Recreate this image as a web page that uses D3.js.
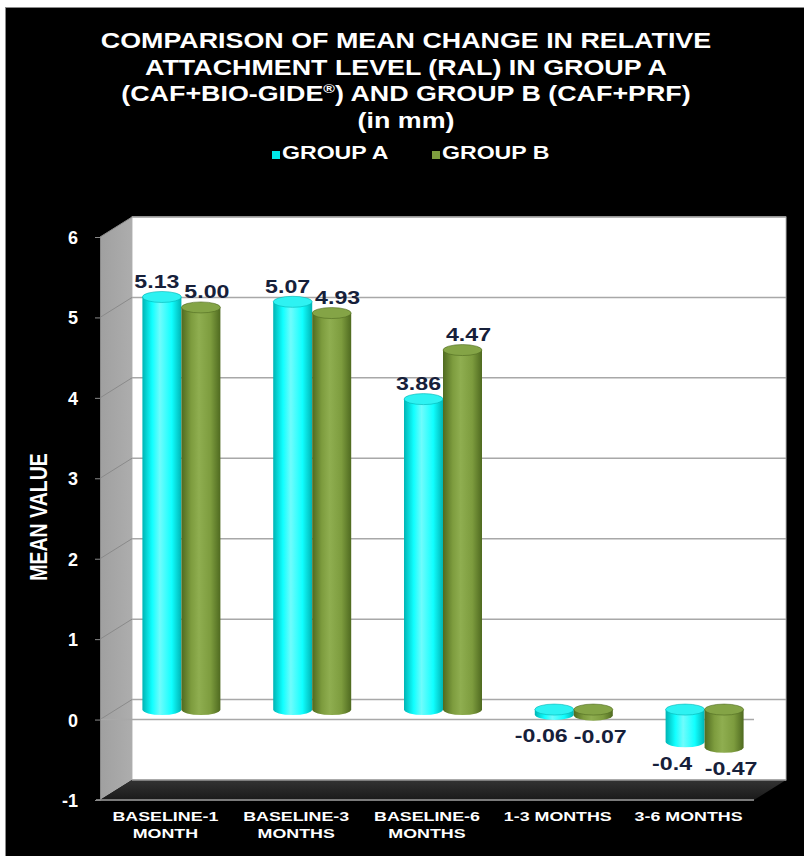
<!DOCTYPE html>
<html>
<head>
<meta charset="utf-8">
<script src="https://cdn.jsdelivr.net/npm/d3@7"></script>
<style>
  body { margin: 0; background: #fff; }
  svg { display: block; }
  text { font-family: "Liberation Sans", Arial, sans-serif; font-weight: bold; }
</style>
</head>
<body>
<script>
// ---- data ----
const categories = [["BASELINE-1", "MONTH"], ["BASELINE-3", "MONTHS"], ["BASELINE-6", "MONTHS"], ["1-3 MONTHS"], ["3-6 MONTHS"]];
const seriesNames = ["GROUP A", "GROUP B"];
const groupA = [5.13, 5.07, 3.86, -0.06, -0.4];
const groupB = [5.00, 4.93, 4.47, -0.07, -0.47];
const labelsA = ["5.13", "5.07", "3.86", "-0.06", "-0.4"];
const labelsB = ["5.00", "4.93", "4.47", "-0.07", "-0.47"];
const yTicks = [-1, 0, 1, 2, 3, 4, 5, 6];
const titleLines = [
  "COMPARISON OF MEAN CHANGE IN RELATIVE",
  "ATTACHMENT LEVEL (RAL) IN GROUP A",
  "(CAF+BIO-GIDE\u00AE) AND GROUP B (CAF+PRF)",
  "(in mm)"
];
const yTitle = "MEAN VALUE";

// ---- layout ----
const W = 804, H = 856;
const STRETCH = 1.22;           // wide lettering used throughout
const DX = 32, DY = -20;        // depth offset of the back wall
const BAR_W = 39, RY = 5.5;
const seriesColors = [
  { edge: "#00b4b4", mid: "#10ffff", light: "#6ffcfc", top: "#2ef2f2" },
  { edge: "#4f6a20", mid: "#7d9c3e", light: "#8fae50", top: "#84a446" }
];

const svg = d3.select("body").append("svg").attr("width", W).attr("height", H);
const defs = svg.append("defs");

seriesColors.forEach((c, i) => {
  const g = defs.append("linearGradient").attr("id", "cyl" + i).attr("x1", 0).attr("x2", 1).attr("y1", 0).attr("y2", 0);
  g.append("stop").attr("offset", "0%").attr("stop-color", c.edge);
  g.append("stop").attr("offset", "25%").attr("stop-color", c.mid);
  g.append("stop").attr("offset", "45%").attr("stop-color", c.light);
  g.append("stop").attr("offset", "75%").attr("stop-color", c.mid);
  g.append("stop").attr("offset", "100%").attr("stop-color", c.edge);
});
const sideGrad = defs.append("linearGradient").attr("id", "side").attr("x1", 0).attr("x2", 1);
sideGrad.append("stop").attr("offset", "0%").attr("stop-color", "#a0a0a0");
sideGrad.append("stop").attr("offset", "100%").attr("stop-color", "#adadad");
const floorGrad = defs.append("linearGradient").attr("id", "floor").attr("x1", 0).attr("x2", 0).attr("y1", 0).attr("y2", 1);
floorGrad.append("stop").attr("offset", "0%").attr("stop-color", "#333");
floorGrad.append("stop").attr("offset", "100%").attr("stop-color", "#1a1a1a");

// frame
svg.append("rect").attr("x", 5.5).attr("y", 7.5).attr("width", W).attr("height", H)
  .attr("fill", "#000").attr("stroke", "#8a8a8a");

// scales on the front plane
const y = d3.scaleLinear().domain([-1, 6]).range([800, 237]);
const x = d3.scaleBand().domain(d3.range(categories.length)).range([100, 754]);
const x0 = x.range()[0], x1 = x.range()[1];
const yMin = y(-1), yMax = y(6);

function stretch(sel, s) {
  sel.each(function () {
    const len = this.getComputedTextLength();
    d3.select(this).attr("textLength", len * s).attr("lengthAdjust", "spacingAndGlyphs");
  });
}

// back wall
svg.append("rect")
  .attr("x", x0 + DX).attr("y", yMax + DY)
  .attr("width", x1 + DX - (x0 + DX)).attr("height", yMin - yMax)
  .attr("fill", "#fff").attr("stroke", "#b8b8b8").attr("stroke-width", 1);

// side wall
svg.append("path")
  .attr("d", `M${x0},${yMax} L${x0 + DX},${yMax + DY} L${x0 + DX},${yMin + DY} L${x0},${yMin} Z`)
  .attr("fill", "url(#side)");

// gridlines: back wall + side wall diagonals
const grid = svg.append("g");
yTicks.filter(t => t > -1).forEach(t => {
  grid.append("line")
    .attr("x1", x0 + DX).attr("x2", x1 + DX)
    .attr("y1", y(t) + DY).attr("y2", y(t) + DY)
    .attr("stroke", "#a8a8a8").attr("stroke-width", 1.5);
  grid.append("line")
    .attr("x1", x0).attr("x2", x0 + DX)
    .attr("y1", y(t)).attr("y2", y(t) + DY)
    .attr("stroke", "#8a8a8a").attr("stroke-width", 1);
});

// floor
svg.append("path")
  .attr("d", `M${x0},${yMin} L${x0 + DX},${yMin + DY} L${x1 + DX},${yMin + DY} L${x1},${yMin} Z`)
  .attr("fill", "url(#floor)");
svg.append("line").attr("x1", x0 + DX).attr("x2", x1 + DX).attr("y1", yMin + DY).attr("y2", yMin + DY)
  .attr("stroke", "#9a9a9a").attr("stroke-width", 1.5);
svg.append("line").attr("x1", x0 - 4).attr("x2", x1).attr("y1", yMin).attr("y2", yMin)
  .attr("stroke", "#7a7a7a").attr("stroke-width", 2);

// zero line on the front plane
svg.append("line").attr("x1", x0).attr("x2", x1).attr("y1", y(0)).attr("y2", y(0))
  .attr("stroke", "#a8a8a8").attr("stroke-width", 1.5);

// y axis
const yAxis = svg.append("g").attr("transform", `translate(${x0},0)`)
  .call(d3.axisLeft(y).tickValues(yTicks).tickSize(5).tickPadding(17).tickFormat(d => String(d)));
yAxis.select(".domain").attr("stroke", "#8a8a8a");
yAxis.selectAll(".tick line").attr("stroke", "#8a8a8a");
yAxis.selectAll(".tick text")
  .attr("fill", "#fff").attr("font-size", 18).attr("font-family", "Liberation Sans, Arial, sans-serif")
  .attr("font-weight", "bold").attr("dy", "0.36em");

// cylinders
function cylinder(g, cx, v, si) {
  const c = seriesColors[si];
  const yz = y(0) + DY / 2, yv = y(v) + DY / 2;
  const top = Math.min(yz, yv), bot = Math.max(yz, yv);
  const rx = BAR_W / 2;
  g.append("path")
    .attr("d", `M${cx - rx},${top} L${cx - rx},${bot} A${rx},${RY} 0 0 0 ${cx + rx},${bot} L${cx + rx},${top} Z`)
    .attr("fill", `url(#cyl${si})`);
  g.append("ellipse").attr("cx", cx).attr("cy", top).attr("rx", rx).attr("ry", RY)
    .attr("fill", c.top).attr("stroke", c.edge).attr("stroke-width", 0.6);
}

const series = [groupA, groupB];
const seriesLabels = [labelsA, labelsB];
const bars = svg.append("g");
const labelG = svg.append("g");
categories.forEach((cat, i) => {
  const center = x(i) + x.bandwidth() / 2 + DX / 2;
  series.forEach((vals, si) => {
    const cx = center + (si === 0 ? -BAR_W / 2 : BAR_W / 2);
    const v = vals[i];
    cylinder(bars, cx, v, si);
    const yv = y(v) + DY / 2;
    const off = v >= 0 ? (si === 0 ? -5 : 6) : (si === 0 ? -13 : 7);
    labelG.append("text")
      .attr("x", cx + off)
      .attr("y", v >= 0 ? yv - 9 : yv + 28)
      .attr("text-anchor", "middle")
      .attr("font-size", 19)
      .attr("fill", "#16203a")
      .text(seriesLabels[si][i]);
  });
});
stretch(labelG.selectAll("text"), STRETCH);

// category labels
const catG = svg.append("g");
categories.forEach((lines, i) => {
  const cx = x(i) + x.bandwidth() / 2;
  lines.forEach((ln, k) => {
    catG.append("text")
      .attr("x", cx).attr("y", 821 + k * 17)
      .attr("text-anchor", "middle").attr("font-size", 13.5).attr("fill", "#fff")
      .text(ln);
  });
});
stretch(catG.selectAll("text"), 1.32);

// y axis title
svg.append("g").attr("transform", "translate(47,517) scale(1.25,1) rotate(-90)")
  .append("text").attr("text-anchor", "middle").attr("font-size", 19.5).attr("fill", "#fff")
  .text(yTitle);

// title
const titleG = svg.append("g");
titleLines.forEach((ln, k) => {
  const t = titleG.append("text")
    .attr("x", 406).attr("y", 48 + k * 26.7)
    .attr("text-anchor", "middle").attr("font-size", 22).attr("fill", "#fff");
  if (ln.includes("\u00AE")) {
    const parts = ln.split("\u00AE");
    t.append("tspan").text(parts[0]);
    t.append("tspan").attr("font-size", 13).attr("dy", -8).text("\u00AE");
    t.append("tspan").attr("dy", 8).text(parts[1]);
  } else {
    t.text(ln);
  }
});
stretch(titleG.selectAll("text"), STRETCH);

// legend
const legend = svg.append("g");
const legendX = [272, 432];
seriesNames.forEach((name, si) => {
  legend.append("rect").attr("x", legendX[si]).attr("y", 151).attr("width", 8).attr("height", 8)
    .attr("fill", si === 0 ? "#00e8e8" : "#7d9c3e");
  legend.append("text").attr("x", legendX[si] + 10).attr("y", 159)
    .attr("font-size", 17.5).attr("fill", "#fff").text(name);
});
stretch(legend.selectAll("text"), 1.32);
</script>
</body>
</html>
